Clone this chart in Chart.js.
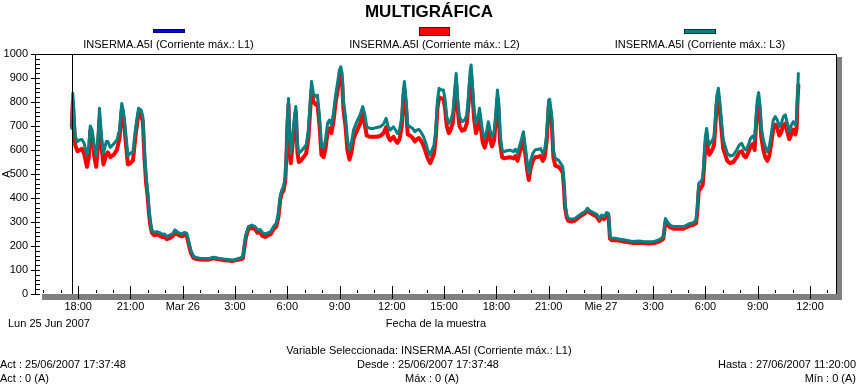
<!DOCTYPE html>
<html>
<head>
<meta charset="utf-8">
<script src="https://cdn.jsdelivr.net/npm/chart.js@4.4.1/dist/chart.umd.min.js"></script>
<style>
  body { margin: 0; background: #fff; }
  #wrap { position: relative; width: 858px; height: 385px; overflow: hidden;
          font-family: "Liberation Sans", Arial, sans-serif; font-size: 11px; color: #000; }
  #chart { position: absolute; left: 0; top: 0; }
  .t { position: absolute; white-space: nowrap; line-height: 13px; }
  .c { width: 400px; text-align: center; }
  .sw { position: absolute; box-sizing: border-box; border: 1px solid rgba(0,0,0,0.55); }
  #title { position: absolute; left: 0; top: 2px; width: 858px; text-align: center;
           font-weight: bold; font-size: 17px; line-height: 20px; }
</style>
</head>
<body>
<div id="wrap">
  <canvas id="chart" width="858" height="385" style="width:858px;height:385px"></canvas>
  <div id="title">MULTIGRÁFICA</div>
  <div id="legend"></div>
  <div class="t" style="left:8px;top:317px">Lun 25 Jun 2007</div>
  <div class="t c" style="left:236px;top:317px">Fecha de la muestra</div>
  <div class="t c" style="left:229px;top:344px">Variable Seleccionada: INSERMA.A5I (Corriente máx.: L1)</div>
  <div class="t" style="left:0px;top:358px">Act : 25/06/2007 17:37:48</div>
  <div class="t c" style="left:228px;top:358px">Desde : 25/06/2007 17:37:48</div>
  <div class="t" style="right:2px;top:358px">Hasta : 27/06/2007 11:20:00</div>
  <div class="t" style="left:0px;top:372px">Act : 0 (A)</div>
  <div class="t c" style="left:232px;top:372px">Máx : 0 (A)</div>
  <div class="t" style="right:2px;top:372px">Mín : 0 (A)</div>
</div>
<script>
// series names
const seriesLabels = ['INSERMA.A5I (Corriente máx.: L1)', 'INSERMA.A5I (Corriente máx.: L2)', 'INSERMA.A5I (Corriente máx.: L3)'];

// x axis, hours counted from Mon 25 Jun 2007 00:00
const xTickValues = [18, 21, 24, 27, 30, 33, 36, 39, 42, 45, 48, 51, 54, 57, 60];
const xTickLabels = ['18:00', '21:00', 'Mar 26', '3:00', '6:00', '9:00', '12:00', '15:00', '18:00', '21:00', 'Mie 27', '3:00', '6:00', '9:00', '12:00'];
const xMin = 15.52;
const xMax = 61.49;
const cursorHour = 17.63; // 25/06/2007 17:37:48

// sample times (hours)
const sampleHours = [
  17.63, 17.69, 17.77, 17.83, 17.96, 18.08, 18.21, 18.34, 18.50, 18.61,
  18.69, 18.80, 18.92, 19.03, 19.15, 19.22, 19.34, 19.45, 19.61, 19.70,
  19.84, 20.03, 20.22, 20.37, 20.50, 20.60, 20.72, 20.85, 20.98, 21.14,
  21.29, 21.46, 21.61, 21.71, 21.80, 21.90, 21.98, 22.05, 22.13, 22.23,
  22.36, 22.51, 22.67, 22.80, 22.95, 23.09, 23.28, 23.41, 23.55, 23.66,
  23.81, 23.97, 24.08, 24.23, 24.35, 24.46, 24.62, 24.81, 25.00, 25.48,
  25.76, 26.05, 26.34, 26.62, 26.82, 27.01, 27.29, 27.45, 27.52, 27.62,
  27.77, 27.96, 28.15, 28.29, 28.44, 28.57, 28.73, 28.92, 29.05, 29.21,
  29.36, 29.49, 29.59, 29.68, 29.78, 29.88, 29.95, 30.01, 30.07, 30.12,
  30.20, 30.30, 30.41, 30.49, 30.58, 30.66, 30.77, 30.93, 31.08, 31.21,
  31.39, 31.50, 31.62, 31.73, 31.85, 31.96, 32.08, 32.19, 32.31, 32.42,
  32.53, 32.65, 32.76, 32.88, 32.99, 33.07, 33.15, 33.22, 33.34, 33.45,
  33.57, 33.68, 33.80, 33.99, 34.18, 34.33, 34.45, 34.56, 34.75, 34.94,
  35.13, 35.33, 35.52, 35.67, 35.79, 35.90, 36.09, 36.21, 36.32, 36.44,
  36.57, 36.66, 36.72, 36.82, 36.91, 37.05, 37.20, 37.32, 37.43, 37.55,
  37.66, 37.81, 37.95, 38.06, 38.20, 38.31, 38.42, 38.52, 38.62, 38.71,
  38.83, 38.96, 39.06, 39.15, 39.27, 39.38, 39.50, 39.61, 39.69, 39.78,
  39.88, 40.03, 40.18, 40.30, 40.41, 40.49, 40.55, 40.62, 40.72, 40.83,
  40.95, 41.03, 41.12, 41.22, 41.33, 41.45, 41.54, 41.64, 41.75, 41.87,
  41.98, 42.06, 42.14, 42.21, 42.33, 42.44, 42.59, 42.78, 42.98, 43.09,
  43.21, 43.32, 43.43, 43.55, 43.66, 43.78, 43.86, 43.97, 44.09, 44.22,
  44.41, 44.54, 44.66, 44.77, 44.89, 45.00, 45.06, 45.18, 45.27, 45.38,
  45.56, 45.69, 45.81, 45.88, 45.94, 46.04, 46.13, 46.32, 46.51, 46.70,
  46.90, 47.09, 47.22, 47.37, 47.56, 47.76, 47.91, 48.04, 48.18, 48.33,
  48.43, 48.52, 48.62, 48.81, 49.10, 49.38, 49.67, 49.86, 50.15, 50.43,
  50.72, 51.01, 51.20, 51.39, 51.58, 51.70, 51.81, 51.96, 52.16, 52.44,
  52.73, 52.92, 53.11, 53.30, 53.46, 53.53, 53.61, 53.72, 53.84, 53.91,
  53.99, 54.07, 54.14, 54.22, 54.34, 54.41, 54.49, 54.57, 54.64, 54.74,
  54.83, 54.93, 55.02, 55.14, 55.25, 55.41, 55.60, 55.79, 55.94, 56.08,
  56.21, 56.32, 56.46, 56.59, 56.71, 56.82, 56.90, 56.97, 57.05, 57.13,
  57.20, 57.32, 57.43, 57.55, 57.66, 57.78, 57.89, 58.01, 58.12, 58.24,
  58.35, 58.47, 58.58, 58.70, 58.81, 58.93, 59.04, 59.16, 59.23, 59.28,
  59.33
];

// L1 has no readings in this period
const l1Values = [];

// L2 (A)
const l2Values = [
  700, 800, 690, 620, 595, 600, 605, 585, 530, 570,
  680, 660, 575, 530, 630, 730, 610, 540, 580, 590,
  570, 580, 600, 650, 770, 735, 640, 540, 545, 555,
  660, 755, 740, 720, 570, 460, 410, 345, 290, 255,
  245, 248, 243, 238, 238, 228, 234, 240, 255, 250,
  243, 240, 246, 242, 205, 172, 150, 146, 144, 143,
  149, 145, 141, 140, 137, 140, 145, 148, 185, 235,
  272, 275, 270, 255, 258, 242, 238, 245, 250, 270,
  280, 320, 390, 420, 430, 470, 570, 710, 790, 630,
  545, 620, 710, 760, 590, 550, 555, 570, 585, 650,
  850, 800, 790, 795, 700, 580, 570, 605, 675, 690,
  670, 720, 790, 845, 900, 915, 880, 770, 700, 600,
  560, 590, 645, 680, 710, 750, 705, 660, 655, 655,
  655, 658, 670, 695, 655, 640, 655, 640, 630, 645,
  700, 820, 850, 770, 665, 660, 650, 635, 645, 650,
  640, 620, 590, 565, 545, 565, 585, 650, 775, 820,
  815, 815, 770, 700, 670, 685, 715, 815, 880, 770,
  700, 680, 685, 710, 800, 890, 915, 840, 730, 670,
  700, 740, 685, 630, 610, 645, 680, 645, 615, 640,
  730, 815, 755, 630, 570, 565, 568, 570, 565, 575,
  555, 585, 610, 650, 580, 510, 475, 525, 555, 570,
  572, 575, 555, 570, 640, 780, 785, 710, 570, 535,
  530, 520, 505, 440, 360, 318, 305, 302, 306, 318,
  328, 336, 350, 338, 330, 322, 305, 320, 312, 330,
  328, 230, 224, 225, 222, 218, 215, 212, 214, 212,
  210, 211, 215, 220, 230, 300, 290, 278, 272, 272,
  272, 278, 285, 288, 295, 340, 430, 440, 455, 520,
  620, 660, 600, 580, 595, 605, 620, 705, 790, 825,
  760, 675, 605, 580, 555, 545, 550, 570, 590, 595,
  575, 570, 590, 615, 625, 600, 700, 770, 800, 750,
  655, 600, 570, 555, 575, 630, 690, 705, 690, 660,
  675, 705, 710, 675, 645, 665, 685, 665, 690, 800,
  870
];

// L3 (A)
const l3Values = [
  690, 836, 739, 656, 635, 642, 644, 628, 579, 614,
  700, 683, 614, 575, 669, 774, 656, 586, 635, 635,
  611, 625, 642, 683, 794, 760, 676, 575, 586, 593,
  690, 774, 767, 739, 600, 489, 433, 364, 308, 267,
  256, 260, 256, 249, 250, 239, 246, 250, 267, 260,
  253, 250, 256, 253, 218, 183, 158, 151, 149, 147,
  153, 149, 146, 144, 142, 144, 150, 155, 197, 246,
  281, 287, 281, 267, 269, 256, 250, 256, 260, 281,
  294, 336, 406, 433, 447, 489, 600, 739, 815, 669,
  586, 656, 739, 781, 628, 586, 593, 607, 621, 683,
  885, 836, 822, 829, 739, 614, 607, 642, 711, 725,
  704, 753, 822, 878, 933, 947, 919, 808, 739, 642,
  600, 628, 683, 718, 746, 781, 746, 697, 690, 690,
  694, 697, 708, 732, 697, 683, 697, 683, 669, 683,
  739, 850, 885, 808, 704, 697, 690, 676, 683, 686,
  676, 656, 628, 600, 579, 600, 621, 683, 808, 857,
  850, 850, 808, 739, 711, 725, 753, 850, 919, 808,
  739, 718, 725, 746, 836, 926, 954, 878, 767, 711,
  739, 774, 725, 669, 649, 683, 718, 683, 656, 676,
  767, 850, 794, 669, 600, 593, 597, 600, 593, 603,
  586, 614, 642, 676, 614, 544, 503, 558, 586, 600,
  603, 606, 586, 600, 669, 808, 811, 739, 600, 565,
  558, 544, 530, 461, 378, 329, 315, 312, 315, 325,
  336, 343, 357, 346, 339, 332, 315, 329, 322, 339,
  336, 239, 232, 232, 228, 225, 221, 219, 221, 219,
  218, 218, 222, 228, 239, 315, 301, 287, 281, 281,
  281, 287, 294, 297, 308, 364, 461, 468, 482, 558,
  656, 690, 642, 621, 635, 642, 656, 739, 822, 857,
  794, 711, 642, 614, 586, 575, 579, 600, 621, 628,
  607, 600, 621, 649, 658, 642, 739, 808, 839, 787,
  697, 642, 614, 593, 614, 669, 725, 739, 725, 697,
  711, 739, 746, 711, 676, 704, 718, 704, 725, 822,
  919
];

const seriesColors = ['#0000ff', '#ff0000', '#008080'];
const swatchSizes = [[32, 4], [31, 9], [32, 5]];
const legendCenters = [168.5, 434.5, 700];

// legend: swatch above the name
const legend = document.getElementById('legend');
seriesLabels.forEach((name, i) => {
  const sw = document.createElement('div');
  sw.className = 'sw';
  sw.style.background = seriesColors[i];
  sw.style.width = swatchSizes[i][0] + 'px';
  sw.style.height = swatchSizes[i][1] + 'px';
  sw.style.left = (legendCenters[i] - swatchSizes[i][0] / 2) + 'px';
  sw.style.top = (31 - swatchSizes[i][1] / 2) + 'px';
  legend.appendChild(sw);
  const lab = document.createElement('div');
  lab.className = 't c';
  lab.style.left = (legendCenters[i] - 200) + 'px';
  lab.style.top = '38px';
  lab.textContent = name;
  legend.appendChild(lab);
});

const toPoints = vals => vals.map((v, i) => ({ x: sampleHours[i], y: v }));

// frame, shadow, cursor and tick marks
const framePlugin = {
  id: 'frame',
  beforeDatasetsDraw(chart) {
    const { ctx, chartArea: a } = chart;
    ctx.save();
    ctx.fillStyle = '#808080';
    ctx.fillRect(a.left + 7, a.bottom, a.right - a.left - 1, 6);
    ctx.fillRect(a.right + 1, a.top + 3, 5, a.bottom - a.top + 3);
    ctx.restore();
  },
  afterDatasetsDraw(chart) {
    const { ctx, chartArea: a, scales: { x, y } } = chart;
    ctx.save();
    ctx.strokeStyle = '#000';
    ctx.lineWidth = 1;
    ctx.beginPath();
    ctx.moveTo(a.left + 0.5, a.bottom);
    ctx.lineTo(a.left + 0.5, a.top + 0.5);
    ctx.lineTo(a.right + 0.5, a.top + 0.5);
    ctx.lineTo(a.right + 0.5, a.bottom);
    const cx = Math.round(x.getPixelForValue(cursorHour)) + 0.5;
    ctx.moveTo(cx, a.top);
    ctx.lineTo(cx, a.bottom);
    for (let v = 0; v <= 1000; v += 20) {
      const py = Math.round(y.getPixelForValue(v)) + 0.5;
      ctx.moveTo(a.left, py);
      ctx.lineTo(a.left + 5, py);
      if (v % 100 === 0) {
        ctx.moveTo(a.left - 4, py);
        ctx.lineTo(a.left, py);
      }
    }
    for (let h = Math.ceil(x.min); h <= x.max; h++) {
      const px = Math.round(x.getPixelForValue(h)) + 0.5;
      if (xTickValues.includes(h)) {
        ctx.moveTo(px, a.bottom - 8);
        ctx.lineTo(px, a.bottom + 5);
      } else {
        ctx.moveTo(px, a.bottom - 4);
        ctx.lineTo(px, a.bottom - 1);
      }
    }
    ctx.stroke();
    ctx.restore();
  }
};

Chart.defaults.font.family = '"Liberation Sans", Arial, sans-serif';
Chart.defaults.font.size = 11;
Chart.defaults.color = '#000';

new Chart(document.getElementById('chart'), {
  type: 'line',
  data: {
    datasets: [
      { label: seriesLabels[0], data: toPoints(l1Values), borderColor: seriesColors[0], borderWidth: 2, order: 2 },
      { label: seriesLabels[1], data: toPoints(l2Values), borderColor: seriesColors[1], borderWidth: 4, order: 1 },
      { label: seriesLabels[2], data: toPoints(l3Values), borderColor: seriesColors[2], borderWidth: 3, order: 0 }
    ]
  },
  options: {
    responsive: false,
    animation: false,
    devicePixelRatio: 1,
    layout: { padding: { top: 54, right: 22, left: 0, bottom: 0 } },
    elements: {
      point: { radius: 0 },
      line: { tension: 0, borderJoinStyle: 'round', borderCapStyle: 'round' }
    },
    plugins: { legend: { display: false }, tooltip: { enabled: false } },
    scales: {
      x: {
        type: 'linear',
        min: xMin,
        max: xMax,
        grid: { display: false, drawTicks: false },
        border: { display: false },
        afterBuildTicks: s => { s.ticks = xTickValues.map(v => ({ value: v })); },
        afterFit: s => { s.height = 91; },
        ticks: { autoSkip: false, maxRotation: 0, padding: 6, callback: (v, i) => xTickLabels[i] }
      },
      y: {
        min: 0,
        max: 1000,
        grid: { display: false, drawTicks: false },
        border: { display: false },
        afterFit: s => { s.width = 35; },
        ticks: { stepSize: 100, padding: 7, callback: v => String(v) },
        title: { display: true, text: 'A', padding: 0 }
      }
    }
  },
  plugins: [framePlugin]
});
</script>
</body>
</html>
